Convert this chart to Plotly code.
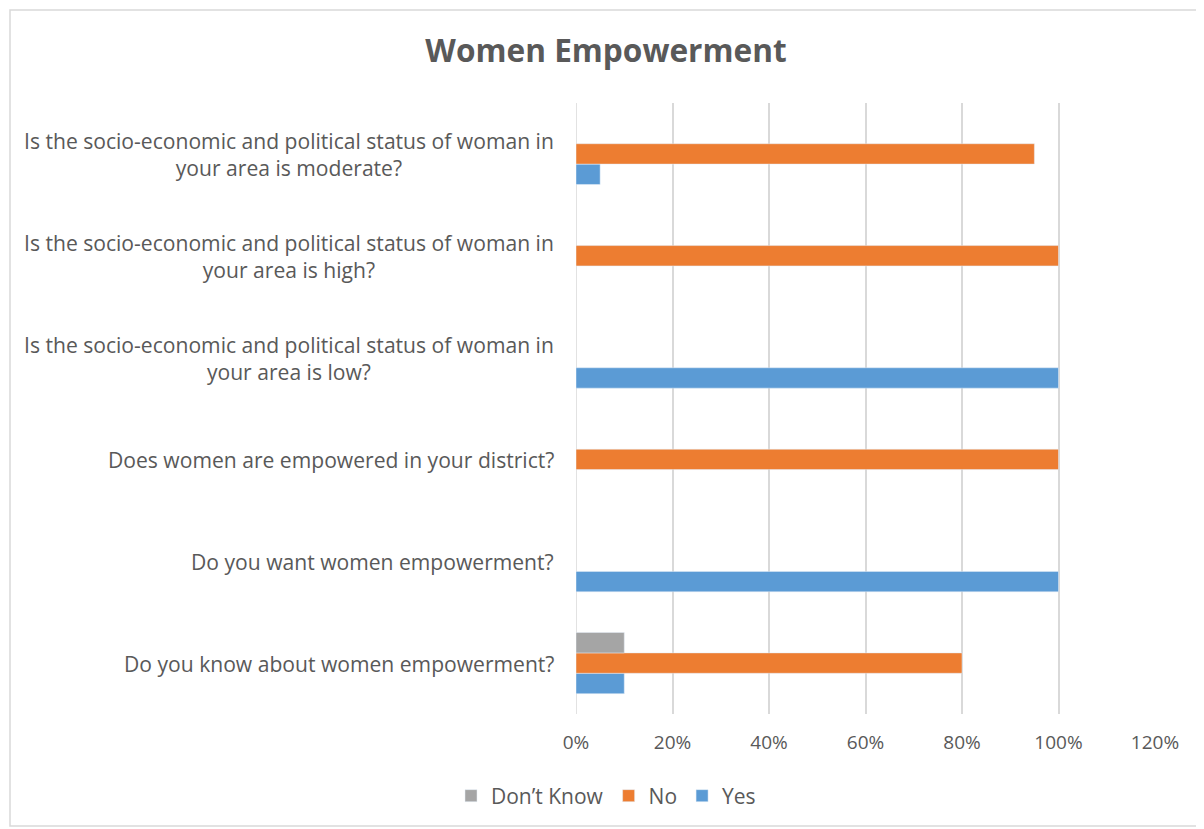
import plotly.graph_objects as go

categories = [
    "Do you know about women empowerment?",
    "Do you want women empowerment?",
    "Does women are empowered in your district?",
    "Is the socio-economic and political status of woman in<br>your area is low?",
    "Is the socio-economic and political status of woman in<br>your area is high?",
    "Is the socio-economic and political status of woman in<br>your area is moderate?",
]
yes_vals = [0.10, 1.00, None, 1.00, None, 0.05]
no_vals = [0.80, None, 1.00, None, 1.00, 0.95]
dk_vals = [0.10, None, None, None, None, None]
x_ticks = [0, 0.2, 0.4, 0.6, 0.8, 1.0, 1.2]
x_tick_labels = ["0%", "20%", "40%", "60%", "80%", "100%", "120%"]

FONT = "Open Sans, Calibri, sans-serif"
GREY = "#595959"

fig = go.Figure()
fig.add_trace(go.Bar(y=categories, x=yes_vals, name="Yes", orientation="h",
                     marker_color="#5B9BD5"))
fig.add_trace(go.Bar(y=categories, x=no_vals, name="No", orientation="h",
                     marker_color="#ED7D31"))
fig.add_trace(go.Bar(y=categories, x=dk_vals, name="Don\u2019t Know", orientation="h",
                     marker_color="#A5A5A5"))

fig.update_layout(
    width=1196, height=821,
    barmode="group", bargap=0.4, bargroupgap=0,
    plot_bgcolor="white", paper_bgcolor="white",
    margin=dict(l=568, r=49, t=95, b=115),
    font=dict(family=FONT, size=18, color=GREY),
    title=dict(text="<b>Women Empowerment</b>", x=0.5, xref="container", xanchor="center",
               y=1 - 43/821, yanchor="middle", yref="container",
               font=dict(size=31.6, color=GREY, family=FONT)),
    legend=dict(orientation="h", x=0.5, xanchor="center", xref="container",
                y=33/821, yanchor="middle", yref="container",
                traceorder="reversed", font=dict(size=21, color=GREY),
                itemwidth=30),
    showlegend=True,
)
fig.update_xaxes(range=[0, 1.2], tickvals=x_ticks, ticktext=x_tick_labels,
                 showgrid=True, gridcolor="#D9D9D9", gridwidth=1.5,
                 zeroline=False, showline=False, ticks="",
                 ticklabelstandoff=15, tickfont=dict(size=19, color=GREY))
fig.update_yaxes(categoryorder="array", categoryarray=categories,
                 showgrid=False, zeroline=False, showline=False, ticks="",
                 showticklabels=False)
for c in categories:
    fig.add_annotation(x=0, xref="paper", y=c, yref="y", text=c, showarrow=False,
                       xanchor="right", yanchor="middle", align="center", xshift=-20,
                       font=dict(size=21.1, color=GREY, family=FONT))
fig.add_shape(type="line", xref="x", yref="paper", x0=0, x1=0, y0=0, y1=1,
              line=dict(color="#D9D9D9", width=1.5), layer="below")
# outer chart border (figure is offset by the page's 8px body margin)
fig.add_shape(type="rect", xref="paper", yref="paper",
              x0=-566/579, x1=1.2, y0=-112/611, y1=1 + 93/611,
              line=dict(color="#D9D9D9", width=1.5))

fig.write_html("out.html")
